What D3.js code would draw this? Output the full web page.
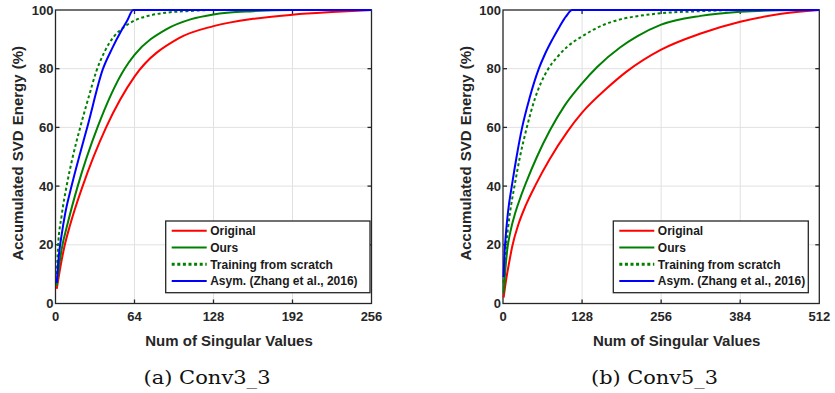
<!DOCTYPE html>
<html lang="en">
<head>
  <meta charset="UTF-8">
  <title>Accumulated SVD Energy</title>
  <script src="https://d3js.org/d3.v7.min.js"></script>
  <style>
    body {
      margin: 0;
      background: white;
    }

    svg {
      display: block;
      font-family: "Liberation Sans", Arial, Helvetica, sans-serif;
    }

    .grid line {
      stroke: #e1e1e1;
      stroke-width: 1;
    }

    .tick-label {
      font-size: 13px;
      font-weight: bold;
      fill: #262626;
    }

    .axis-title {
      font-size: 15px;
      font-weight: bold;
      fill: #262626;
    }

    .legend text {
      font-size: 12px;
      font-weight: bold;
      fill: #1a1a1a;
    }

    .caption {
      font-family: "DejaVu Serif", "Liberation Serif", serif;
      font-size: 18.5px;
      fill: #111;
    }

    .curve {
      fill: none;
      stroke-width: 2;
    }
  </style>
</head>
<body>
  <div id="chart"></div>

  <script>
    // values: [num of singular values, energy %]
    const conv3Original = [[1, 5], [4, 12.5], [7, 19], [12, 27], [22, 40], [41, 60], [64, 77.3], [100, 90.4],
      [128, 94.5], [160, 97], [192, 98.4], [224, 99.3], [256, 100]];
    const conv3Ours = [[1, 6], [3, 13], [5, 18.5], [10, 27.5], [18, 40], [34, 60], [56, 80], [64, 84.7],
      [90, 93.5], [110, 96.9], [128, 98.5], [160, 99.6], [192, 100], [256, 100]];
    const conv3Scratch = [[1, 10], [2, 19], [5, 30], [9, 40], [14, 50], [20, 60], [27, 70.5], [33, 79],
      [40, 86], [47, 90.8], [55, 94], [64, 96.4], [77, 98.2], [90, 99.1], [110, 99.7], [128, 100], [256, 100]];
    const conv3Asym = [[1, 7], [2, 13], [3, 17.5], [5, 23.5], [8, 31], [13, 40], [19.5, 50.5], [26, 60.5],
      [38.5, 80], [46, 87], [53.4, 93], [58, 96.3], [63, 100], [256, 100]];

    const conv5Original = [[1, 2], [5, 8], [10, 14], [15, 19.5], [25, 27], [37, 33.5], [53, 40.5], [75, 49],
      [104, 58.5], [128, 65], [168, 73.3], [200, 79], [256, 86.5], [320, 92], [384, 96], [448, 98.6], [512, 100]];
    const conv5Ours = [[1, 3.5], [4, 12], [7, 18.5], [12, 24.5], [20, 31], [28, 36], [37, 41], [55, 50],
      [76, 59], [100, 67.5], [128, 75], [152, 80.5], [190, 87.3], [217, 91], [256, 95], [320, 98],
      [384, 99.4], [448, 99.9], [512, 100]];
    const conv5Scratch = [[1, 7], [3, 14.5], [5, 19.5], [8, 25.5], [11, 30.5], [19, 40.5], [27, 49.5],
      [38, 59.5], [52, 70], [72, 79.5], [88, 84], [104, 87.5], [128, 91], [160, 94.7], [190, 96.8],
      [217, 97.9], [256, 98.9], [320, 99.6], [384, 100], [512, 100]];
    const conv5Asym = [[1, 9], [2, 15], [3, 19], [5, 24.5], [8, 31], [15, 41], [22, 50], [31, 60], [43, 70],
      [58, 80], [68, 85], [80, 90], [92, 94.5], [102, 97.8], [112, 100], [512, 100]];

    const seriesNames = ["Original", "Ours", "Training from scratch", "Asym. (Zhang et al., 2016)"];
    const yTicks = [0, 20, 40, 60, 80, 100];
    const conv3Ticks = [0, 64, 128, 192, 256];
    const conv5Ticks = [0, 128, 256, 384, 512];

    const styles = [
      { color: "#ff0000", dash: null, width: 2 },
      { color: "#008000", dash: null, width: 2 },
      { color: "#008000", dash: "3,2.6", width: 3 },
      { color: "#0000ff", dash: null, width: 2 }
    ];

    const width = 835;
    const height = 393;
    const plotTop = 10;
    const plotBottom = 303.5;

    const svg = d3.select("#chart")
      .append("svg")
      .attr("width", width)
      .attr("height", height)
      .attr("viewBox", [0, 0, width, height]);

    function panel(opts) {
      const x = d3.scaleLinear()
        .domain([0, opts.xTicks[opts.xTicks.length - 1]])
        .range([opts.left, opts.right]);
      const y = d3.scaleLinear().domain([0, 100]).range([plotBottom, plotTop]);

      const g = svg.append("g");

      // grid
      const grid = g.append("g").attr("class", "grid");
      grid.selectAll(".gx")
        .data(opts.xTicks.slice(1, -1))
        .join("line")
          .attr("class", "gx")
          .attr("x1", d => x(d)).attr("x2", d => x(d))
          .attr("y1", plotTop).attr("y2", plotBottom);
      grid.selectAll(".gy")
        .data(yTicks.slice(1, -1))
        .join("line")
          .attr("class", "gy")
          .attr("x1", opts.left).attr("x2", opts.right)
          .attr("y1", d => y(d)).attr("y2", d => y(d));

      // box with inward ticks on every side
      g.append("rect")
        .attr("x", opts.left).attr("y", plotTop)
        .attr("width", opts.right - opts.left).attr("height", plotBottom - plotTop)
        .attr("fill", "none")
        .attr("stroke", "#262626")
        .attr("stroke-width", 1.3);

      const tl = 4;
      const ticks = g.append("g").attr("stroke", "#262626").attr("stroke-width", 1.3);
      opts.xTicks.slice(1, -1).forEach(d => {
        ticks.append("line").attr("x1", x(d)).attr("x2", x(d)).attr("y1", plotBottom).attr("y2", plotBottom - tl);
        ticks.append("line").attr("x1", x(d)).attr("x2", x(d)).attr("y1", plotTop).attr("y2", plotTop + tl);
      });
      yTicks.slice(1, -1).forEach(d => {
        ticks.append("line").attr("x1", opts.left).attr("x2", opts.left + tl).attr("y1", y(d)).attr("y2", y(d));
        ticks.append("line").attr("x1", opts.right).attr("x2", opts.right - tl).attr("y1", y(d)).attr("y2", y(d));
      });

      // tick labels
      g.selectAll(".xl")
        .data(opts.xTicks)
        .join("text")
          .attr("class", "tick-label xl")
          .attr("x", d => x(d))
          .attr("y", plotBottom + 17)
          .attr("text-anchor", "middle")
          .text(d => d);
      g.selectAll(".yl")
        .data(yTicks)
        .join("text")
          .attr("class", "tick-label yl")
          .attr("x", opts.left - 2)
          .attr("y", d => y(d) + 4.6)
          .attr("text-anchor", "end")
          .text(d => d);

      // axis titles
      g.append("text")
        .attr("class", "axis-title")
        .attr("x", (opts.left + opts.right) / 2 + 15.5)
        .attr("y", 345.5)
        .attr("text-anchor", "middle")
        .text("Num of Singular Values");
      g.append("text")
        .attr("class", "axis-title")
        .attr("transform", `translate(${opts.left - 32.5},${(plotTop + plotBottom) / 2 - 3.5}) rotate(-90)`)
        .attr("text-anchor", "middle")
        .attr("word-spacing", "1px")
        .text("Accumulated SVD Energy (%)");

      // curves
      const line = d3.line()
        .x(d => x(d[0]))
        .y(d => y(d[1]))
        .curve(d3.curveMonotoneX);

      g.append("g")
        .selectAll("path")
        .data(opts.series)
        .join("path")
          .attr("class", "curve")
          .attr("d", d => line(d))
          .attr("stroke", (d, i) => styles[i].color)
          .attr("stroke-width", (d, i) => styles[i].width)
          .attr("stroke-dasharray", (d, i) => styles[i].dash);

      // legend
      const lg = g.append("g").attr("class", "legend");
      lg.append("rect")
        .attr("x", opts.legendLeft).attr("y", 221)
        .attr("width", opts.legendWidth).attr("height", 71.7)
        .attr("fill", "white")
        .attr("stroke", "#262626")
        .attr("stroke-width", 1.3);
      seriesNames.forEach((name, i) => {
        const ly = 230.7 + i * 16.8;
        lg.append("line")
          .attr("x1", opts.legendLeft + 6).attr("x2", opts.legendLeft + 41)
          .attr("y1", ly).attr("y2", ly)
          .attr("stroke", styles[i].color)
          .attr("stroke-width", styles[i].width)
          .attr("stroke-dasharray", styles[i].dash);
        lg.append("text")
          .attr("x", opts.legendLeft + 44.5)
          .attr("y", ly + 4.3)
          .text(name);
      });

      // caption
      g.append("text")
        .attr("class", "caption")
        .attr("x", opts.captionX)
        .attr("y", 383.5)
        .attr("text-anchor", "middle")
        .attr("textLength", 127)
        .attr("lengthAdjust", "spacingAndGlyphs")
        .text(opts.caption);
    }

    panel({
      left: 55.5, right: 371.5, xTicks: conv3Ticks,
      series: [conv3Original, conv3Ours, conv3Scratch, conv3Asym],
      legendLeft: 165.7, legendWidth: 204.3,
      caption: "(a) Conv3_3", captionX: 207
    });

    panel({
      left: 503, right: 819.3, xTicks: conv5Ticks,
      series: [conv5Original, conv5Ours, conv5Scratch, conv5Asym],
      legendLeft: 613.3, legendWidth: 195,
      caption: "(b) Conv5_3", captionX: 654.5
    });
  </script>
</body>
</html>
